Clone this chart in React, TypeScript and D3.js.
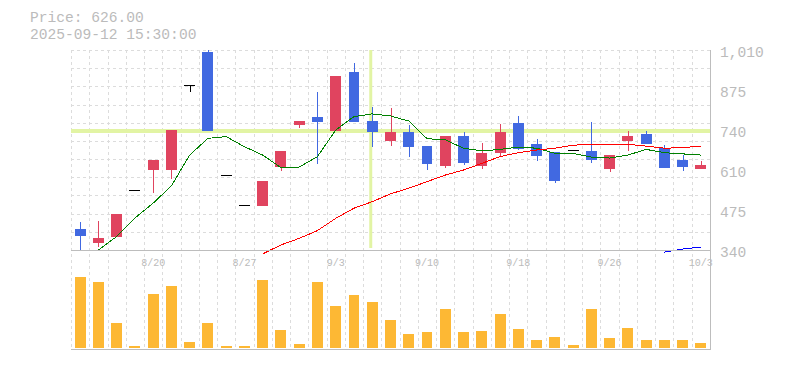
import React from "react";
import * as d3 from "d3";

// trading days shown on the chart
const dates = [
  "8/14", "8/15", "8/18", "8/19", "8/20", "8/21", "8/22", "8/25", "8/26", "8/27",
  "8/28", "8/29", "9/1", "9/2", "9/3", "9/4", "9/5", "9/8", "9/9", "9/10",
  "9/11", "9/12", "9/16", "9/17", "9/18", "9/19", "9/22", "9/24", "9/25", "9/26",
  "9/29", "9/30", "10/1", "10/2", "10/3",
];

const opens = [410, 365, 385, 540, 609, 609, 892, 1003, 590, 490, 488, 618, 760, 786, 740, 936, 772, 706, 735, 688, 621, 722, 623, 665, 766, 695, 668, 675, 672, 611, 705, 729, 682, 642, 611];
const highs = [434, 437, 461, 540, 642, 742, 892, 1010, 590, 490, 571, 672, 772, 869, 923, 966, 818, 816, 759, 688, 722, 735, 698, 762, 789, 712, 668, 675, 769, 658, 739, 739, 692, 658, 638];
const lows = [340, 351, 385, 540, 532, 579, 870, 740, 590, 490, 488, 606, 750, 629, 740, 770, 686, 689, 653, 609, 616, 626, 612, 655, 675, 638, 564, 675, 633, 601, 672, 695, 615, 605, 611];
const closes = [388, 380, 461, 540, 642, 742, 892, 740, 590, 490, 571, 672, 772, 770, 923, 770, 736, 735, 686, 629, 722, 633, 665, 735, 678, 655, 571, 675, 642, 658, 722, 695, 615, 618, 626];

const volumes = [71300, 66000, 25300, 2000, 54300, 62000, 6300, 25300, 2000, 2000, 68000, 18000, 4000, 66000, 42000, 53000, 46000, 28000, 14000, 16000, 39000, 16000, 17000, 34000, 19000, 8000, 11000, 3000, 39000, 10000, 20000, 8000, 8000, 8000, 5000];

// moving averages (null = not drawn)
const maShort = [null, 340, 385, 447, 497, 555, 658, 714, 720, 686, 658, 616, 618, 653, 742, 787, 796, 789, 772, 713, 709, 681, 672, 677, 685, 681, 664, 664, 651, 648, 658, 677, 666, 662, 658];
const maMid = [null, null, null, null, null, null, null, null, null, null, 327, 357, 379, 405, 446, 480, 502, 528, 547, 569, 591, 608, 630, 653, 666, 675, 681, 691, 694, 694, 694, 688, 681, 683, 688];
const maLong = [null, null, null, null, null, null, null, null, null, null, null, null, null, null, null, null, null, null, null, null, null, null, null, null, null, null, null, null, null, null, null, null, 333, 343, 350];

const priceTicks = [340, 474, 608, 742, 876, 1010];
const priceLabels = ["340", "475", "610", "740", "875", "1,010"];
const dateTickIdx = [4, 9, 14, 19, 24, 29, 34];

const crossIdx = 16;
const crossPrice = 739;

const mono = "'Liberation Mono', 'DejaVu Sans Mono', monospace";

export default function App() {
  const width = 785;
  const height = 370;
  const left = 71;
  const right = 710;
  const top = 50;
  const bottom = 250;
  const volTop = 262;
  const volBottom = 348;

  const x = d3
    .scaleBand<string>()
    .domain(dates)
    .range([left, right])
    .paddingInner(0.4)
    .paddingOuter(0.2);
  const step = x.step();
  const bw = x.bandwidth();
  const cx = (i: number) => (x(dates[i]) as number) + bw / 2;

  const y = d3.scaleLinear().domain([340, 1010]).range([bottom, top]);
  const yv = d3.scaleLinear().domain([0, 86000]).range([volBottom, volTop]);

  const gridPrices = d3.range(0, 11).map((i) => 340 + ((i + 1) * 670) / 11);
  const slotEdges = dates.map((d) => (x(d) as number) - step * 0.2);

  const line = d3
    .line<number | null>()
    .defined((d) => d != null)
    .x((_, i) => cx(i))
    .y((d) => y(d as number));

  const up = "#e0445f";
  const down = "#4169e1";
  const cross = "#e2f4a4";

  return (
    <svg
      width={width}
      height={height}
      style={{ position: "absolute", left: 0, top: 0, background: "#fff" }}
    >
      <text x={30} y={22} fontFamily={mono} fontSize={14.6} fill="#bbb">
        Price: 626.00
      </text>
      <text x={30} y={39} fontFamily={mono} fontSize={14.6} fill="#bbb">
        2025-09-12 15:30:00
      </text>

      {/* grid */}
      <g stroke="#dcdcdc" strokeDasharray="3,3" shapeRendering="crispEdges">
        {gridPrices.map((p, i) => (
          <line key={"h" + i} x1={left} x2={right} y1={Math.round(y(p)) + 0.5} y2={Math.round(y(p)) + 0.5} />
        ))}
        {slotEdges.map((sx, i) => (
          <line key={"v" + i} x1={Math.round(sx) + 0.5} x2={Math.round(sx) + 0.5} y1={top} y2={volBottom + 1} />
        ))}
      </g>

      {/* crosshair */}
      <line x1={left} x2={right} y1={y(crossPrice)} y2={y(crossPrice)} stroke={cross} strokeWidth={4} />
      <line x1={cx(crossIdx) - 1.5} x2={cx(crossIdx) - 1.5} y1={top} y2={bottom - 2} stroke={cross} strokeWidth={3} />

      {/* volume */}
      {volumes.map((v, i) => (
        <rect
          key={"vol" + i}
          x={x(dates[i])}
          y={yv(v)}
          width={bw}
          height={volBottom - yv(v)}
          fill="#fdb834"
          shapeRendering="crispEdges"
        />
      ))}

      {/* candles */}
      {dates.map((d, i) => {
        const o = opens[i];
        const c = closes[i];
        const color = c > o ? up : c < o ? down : "#000";
        const bx = x(d) as number;
        const yTop = y(Math.max(o, c));
        const yBot = y(Math.min(o, c));
        return (
          <g key={"c" + i} shapeRendering="crispEdges">
            {highs[i] !== lows[i] && (
              <line
                x1={Math.round(cx(i)) + 0.5}
                x2={Math.round(cx(i)) + 0.5}
                y1={y(highs[i])}
                y2={y(lows[i])}
                stroke={color}
              />
            )}
            <rect x={bx} y={yTop} width={bw} height={Math.max(1, yBot - yTop)} fill={color} />
          </g>
        );
      })}

      {/* moving averages */}
      <g fill="none" strokeWidth={1} shapeRendering="crispEdges">
        <path d={line(maShort) || ""} stroke="#008000" />
        <path d={line(maMid) || ""} stroke="#ff0000" />
        <path d={line(maLong) || ""} stroke="#0000ff" />
      </g>

      {/* axes */}
      <g stroke="#bdbdbd" shapeRendering="crispEdges">
        <line x1={left} x2={right} y1={bottom + 0.5} y2={bottom + 0.5} />
        <line x1={left} x2={right} y1={volBottom + 1.5} y2={volBottom + 1.5} />
        <line x1={right + 0.5} x2={right + 0.5} y1={top} y2={volBottom + 2} />
      </g>

      {priceTicks.map((t, i) => (
        <text key={"pt" + i} x={720} y={y(t) + 7} fontFamily={mono} fontSize={14.6} fill="#bbb">
          {priceLabels[i]}
        </text>
      ))}

      {dateTickIdx.map((i) => (
        <text
          key={"dt" + i}
          x={cx(i)}
          y={266}
          textAnchor="middle"
          fontFamily={mono}
          fontSize={10}
          fill="#bbb"
        >
          {dates[i]}
        </text>
      ))}
    </svg>
  );
}
